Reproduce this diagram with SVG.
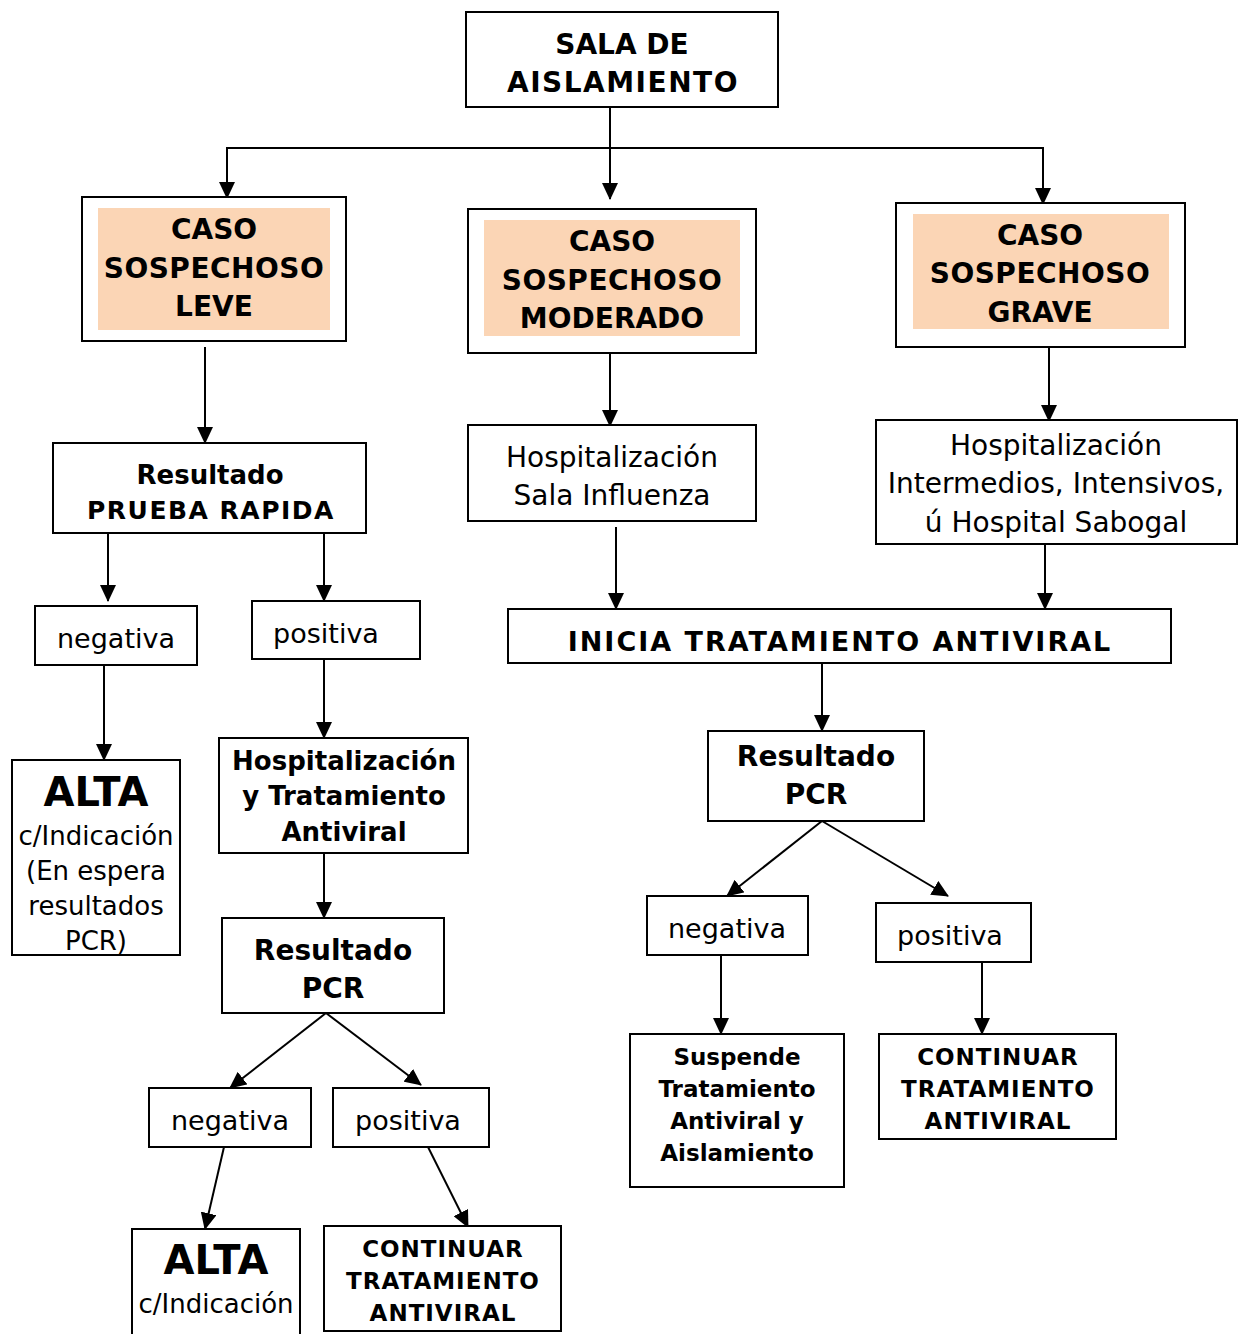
<svg xmlns="http://www.w3.org/2000/svg" width="1238" height="1334" viewBox="0 0 1238 1334">
<defs>
<marker id="ah" markerUnits="userSpaceOnUse" markerWidth="17" markerHeight="16" refX="16" refY="8" orient="auto">
<path d="M0,0 L17,8 L0,16 Z" fill="#000"/>
</marker>
<style>
.box{fill:#fff;stroke:#000;stroke-width:2}
.fill{fill:#FBD5B5;stroke:none}
.b{font-family:"DejaVu Sans","Verdana",sans-serif;font-weight:bold;text-anchor:middle;fill:#000}
.r{font-family:"DejaVu Sans","Verdana",sans-serif;text-anchor:middle;fill:#000}
.c line,.c polyline{stroke:#000;stroke-width:2;fill:none}
</style>
</defs>
<rect width="1238" height="1334" fill="#fff"/>

<g class="c" id="connectors">
<line x1="610" y1="107" x2="610" y2="199" marker-end="url(#ah)"/>
<polyline points="1043,204 1043,148 227,148 227,198" marker-end="url(#ah)"/>
<line x1="1043" y1="148" x2="1043" y2="204" marker-end="url(#ah)"/>
<line x1="205" y1="347" x2="205" y2="443" marker-end="url(#ah)"/>
<line x1="108" y1="533" x2="108" y2="601" marker-end="url(#ah)"/>
<line x1="324" y1="533" x2="324" y2="601" marker-end="url(#ah)"/>
<line x1="104" y1="665" x2="104" y2="760" marker-end="url(#ah)"/>
<line x1="324" y1="659" x2="324" y2="738" marker-end="url(#ah)"/>
<line x1="324" y1="853" x2="324" y2="918" marker-end="url(#ah)"/>
<line x1="326" y1="1013" x2="230" y2="1088" marker-end="url(#ah)"/>
<line x1="326" y1="1013" x2="421" y2="1085" marker-end="url(#ah)"/>
<line x1="224" y1="1147" x2="205" y2="1229" marker-end="url(#ah)"/>
<line x1="428" y1="1147" x2="468" y2="1227" marker-end="url(#ah)"/>
<line x1="610" y1="353" x2="610" y2="426" marker-end="url(#ah)"/>
<line x1="616" y1="527" x2="616" y2="609" marker-end="url(#ah)"/>
<line x1="1049" y1="347" x2="1049" y2="421" marker-end="url(#ah)"/>
<line x1="1045" y1="544" x2="1045" y2="609" marker-end="url(#ah)"/>
<line x1="822" y1="663" x2="822" y2="731" marker-end="url(#ah)"/>
<line x1="822" y1="821" x2="727" y2="896" marker-end="url(#ah)"/>
<line x1="822" y1="821" x2="948" y2="896" marker-end="url(#ah)"/>
<line x1="721" y1="955" x2="721" y2="1034" marker-end="url(#ah)"/>
<line x1="982" y1="955" x2="982" y2="1034" marker-end="url(#ah)"/>
</g>

<g id="sala">
<rect class="box" x="466" y="12" width="312" height="95"/>
<text class="b" x="622" y="54" font-size="28">SALA DE</text>
<text class="b" x="623" y="92" font-size="28" letter-spacing="1.5">AISLAMIENTO</text>
</g>

<g id="leve">
<rect class="box" x="82" y="197" width="264" height="144"/>
<rect class="fill" x="98" y="208" width="232" height="122"/>
<text class="b" x="214" y="239" font-size="28">CASO</text>
<text class="b" x="214" y="278" font-size="28" letter-spacing="0.5">SOSPECHOSO</text>
<text class="b" x="214" y="316" font-size="28">LEVE</text>
</g>

<g id="moderado">
<rect class="box" x="468" y="209" width="288" height="144"/>
<rect class="fill" x="484" y="220" width="256" height="116"/>
<text class="b" x="612" y="251" font-size="28">CASO</text>
<text class="b" x="612" y="290" font-size="28" letter-spacing="0.5">SOSPECHOSO</text>
<text class="b" x="612" y="328" font-size="28">MODERADO</text>
</g>

<g id="grave">
<rect class="box" x="896" y="203" width="289" height="144"/>
<rect class="fill" x="913" y="214" width="256" height="115"/>
<text class="b" x="1040" y="245" font-size="28">CASO</text>
<text class="b" x="1040" y="283" font-size="28" letter-spacing="0.5">SOSPECHOSO</text>
<text class="b" x="1040" y="322" font-size="28">GRAVE</text>
</g>

<g id="prueba-rapida">
<rect class="box" x="53" y="443" width="313" height="90"/>
<text class="b" x="210" y="484" font-size="26">Resultado</text>
<text class="b" x="211" y="519" font-size="25" letter-spacing="1.5">PRUEBA RAPIDA</text>
</g>

<g id="neg1">
<rect class="box" x="35" y="606" width="162" height="59"/>
<text class="r" x="116" y="648" font-size="27">negativa</text>
</g>

<g id="pos1">
<rect class="box" x="252" y="601" width="168" height="58"/>
<text class="r" x="326" y="643" font-size="27">positiva</text>
</g>

<g id="alta1">
<rect class="box" x="12" y="760" width="168" height="195"/>
<text class="b" x="96" y="806" font-size="40">ALTA</text>
<text class="r" x="96" y="845" font-size="26">c/Indicación</text>
<text class="r" x="96" y="880" font-size="26">(En espera</text>
<text class="r" x="96" y="915" font-size="26">resultados</text>
<text class="r" x="96" y="950" font-size="26">PCR)</text>
</g>

<g id="hosp-trat">
<rect class="box" x="219" y="738" width="249" height="115"/>
<text class="b" x="344" y="770" font-size="26">Hospitalización</text>
<text class="b" x="344" y="805" font-size="26">y Tratamiento</text>
<text class="b" x="344" y="841" font-size="26">Antiviral</text>
</g>

<g id="pcr1">
<rect class="box" x="222" y="918" width="222" height="95"/>
<text class="b" x="333" y="960" font-size="28">Resultado</text>
<text class="b" x="333" y="998" font-size="28">PCR</text>
</g>

<g id="neg2">
<rect class="box" x="149" y="1088" width="162" height="59"/>
<text class="r" x="230" y="1130" font-size="27">negativa</text>
</g>

<g id="pos2">
<rect class="box" x="333" y="1088" width="156" height="59"/>
<text class="r" x="408" y="1130" font-size="27">positiva</text>
</g>

<g id="alta2">
<rect class="box" x="132" y="1229" width="168" height="110"/>
<text class="b" x="216" y="1274" font-size="40">ALTA</text>
<text class="r" x="216" y="1313" font-size="26">c/Indicación</text>
</g>

<g id="continuar1">
<rect class="box" x="324" y="1226" width="237" height="105"/>
<text class="b" x="443" y="1257" font-size="23" letter-spacing="1">CONTINUAR</text>
<text class="b" x="443" y="1289" font-size="23" letter-spacing="1">TRATAMIENTO</text>
<text class="b" x="443" y="1321" font-size="23" letter-spacing="1">ANTIVIRAL</text>
</g>

<g id="hosp-influenza">
<rect class="box" x="468" y="425" width="288" height="96"/>
<text class="r" x="612" y="467" font-size="28">Hospitalización</text>
<text class="r" x="612" y="505" font-size="28">Sala Influenza</text>
</g>

<g id="hosp-grave">
<rect class="box" x="876" y="420" width="361" height="124"/>
<text class="r" x="1056" y="455" font-size="28">Hospitalización</text>
<text class="r" x="1056" y="493" font-size="28">Intermedios, Intensivos,</text>
<text class="r" x="1056" y="532" font-size="28">ú Hospital Sabogal</text>
</g>

<g id="inicia">
<rect class="box" x="508" y="609" width="663" height="54"/>
<text class="b" x="840" y="651" font-size="27" letter-spacing="2">INICIA TRATAMIENTO ANTIVIRAL</text>
</g>

<g id="pcr2">
<rect class="box" x="708" y="731" width="216" height="90"/>
<text class="b" x="816" y="766" font-size="28">Resultado</text>
<text class="b" x="816" y="804" font-size="28">PCR</text>
</g>

<g id="neg3">
<rect class="box" x="647" y="896" width="161" height="59"/>
<text class="r" x="727" y="938" font-size="27">negativa</text>
</g>

<g id="pos3">
<rect class="box" x="876" y="903" width="155" height="59"/>
<text class="r" x="950" y="945" font-size="27">positiva</text>
</g>

<g id="suspende">
<rect class="box" x="630" y="1034" width="214" height="153"/>
<text class="b" x="737" y="1065" font-size="23">Suspende</text>
<text class="b" x="737" y="1097" font-size="23">Tratamiento</text>
<text class="b" x="737" y="1129" font-size="23">Antiviral y</text>
<text class="b" x="737" y="1161" font-size="23">Aislamiento</text>
</g>

<g id="continuar2">
<rect class="box" x="879" y="1034" width="237" height="105"/>
<text class="b" x="998" y="1065" font-size="23" letter-spacing="1">CONTINUAR</text>
<text class="b" x="998" y="1097" font-size="23" letter-spacing="1">TRATAMIENTO</text>
<text class="b" x="998" y="1129" font-size="23" letter-spacing="1">ANTIVIRAL</text>
</g>
</svg>
